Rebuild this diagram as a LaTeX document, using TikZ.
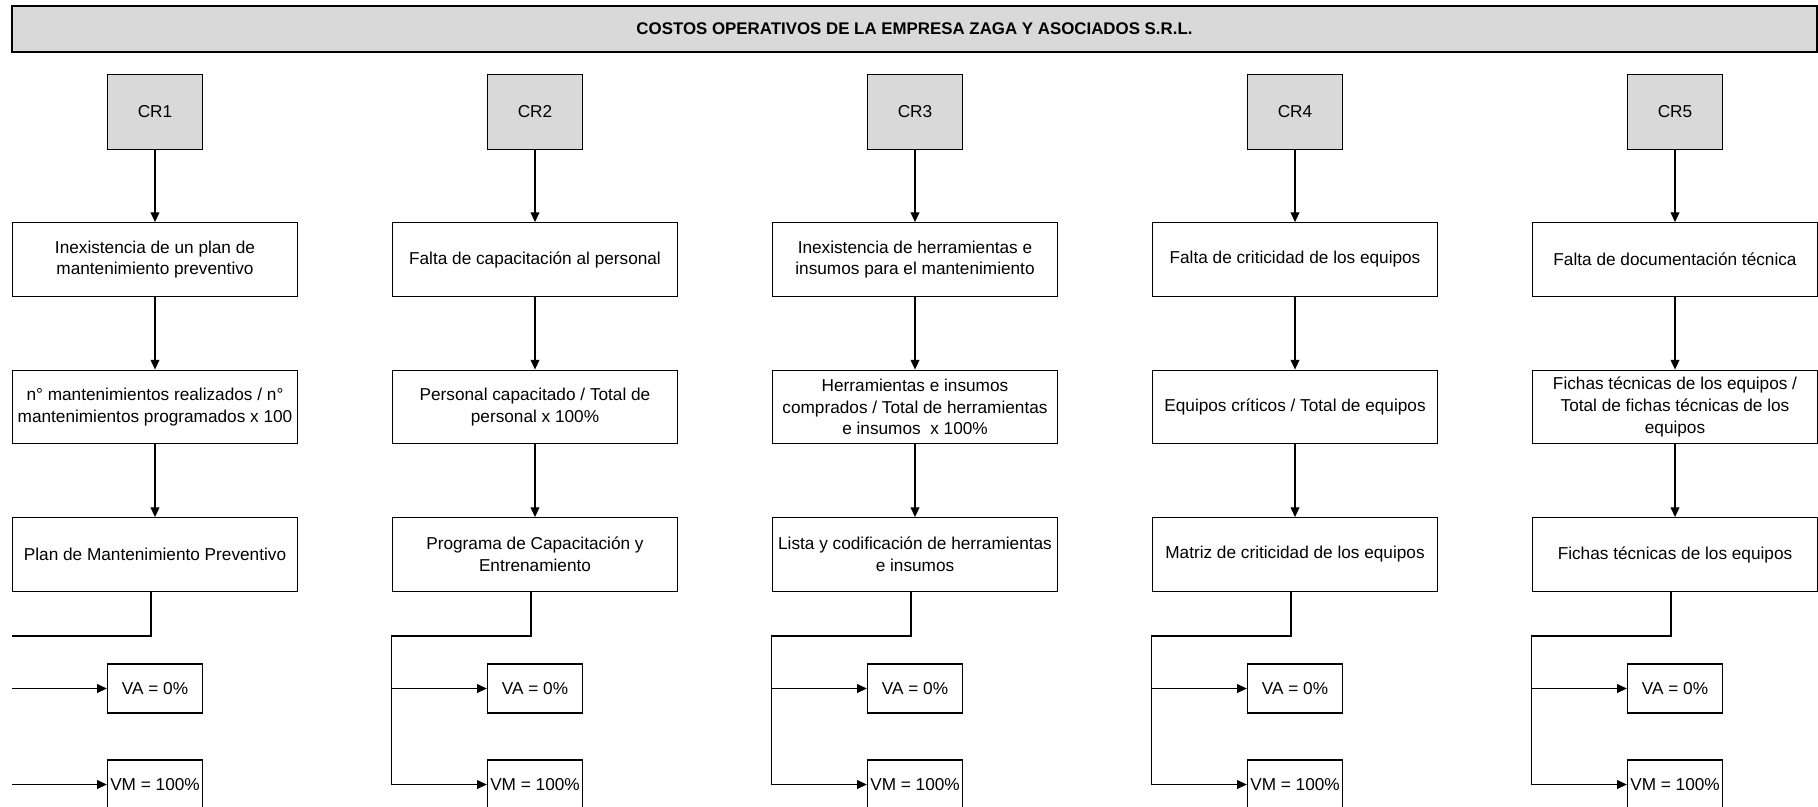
\documentclass[tikz,border=0pt]{standalone}
\usepackage{fontspec}
\setmainfont{Liberation Sans}
\usepackage{tikz}
\usetikzlibrary{arrows.meta}
\definecolor{gris}{HTML}{D9D9D9}

\begin{document}
\begin{tikzpicture}[x=0.02cm, y=-0.02cm,
  font=\fontsize{9.8}{12.3}\selectfont,
  titulo/.style={draw, fill=gris, line width=0.8pt, minimum width=36.1cm, minimum height=0.92cm, font=\fontsize{9.6}{12}\selectfont\bfseries},
  cr/.style={draw, fill=gris, line width=0.8pt, minimum width=1.9cm, minimum height=1.5cm},
  caja/.style={draw, fill=white, line width=0.8pt, minimum width=5.7cm, minimum height=1.47cm, align=center, inner sep=1pt},
  valor/.style={draw, fill=white, line width=0.8pt, minimum width=1.9cm, minimum height=0.98cm, inner sep=1pt},
  linea/.style={line width=0.6pt},
  flecha/.style={linea, -{Triangle[length=5.5pt,width=5pt]}}]
\useasboundingbox (0,0) rectangle (1818,806);
\clip (0,0) rectangle (1818,806);

\node[titulo] (tit) at (914.5,29) {COSTOS OPERATIVOS DE LA EMPRESA ZAGA Y ASOCIADOS S.R.L.};

% columna 1
\node[cr] (cr1) at (155,112) {CR1};
\node[caja] (causa1) at (155,259.5) {Inexistencia de un plan de\\mantenimiento preventivo};
\node[caja] (ind1) at (155,407) {n° mantenimientos realizados / n°\\mantenimientos programados x 100};
\node[caja] (sol1) at (155,554.5) {Plan de Mantenimiento Preventivo};
\node[valor] (va1) at (155,688.5) {VA = 0\%};
\node[valor] (vm1) at (155,784.5) {VM = 100\%};
\draw[flecha] (cr1) -- (causa1);
\draw[flecha] (causa1) -- (ind1);
\draw[flecha] (ind1) -- (sol1);
\draw[linea] ([xshift=-0.08cm]sol1.south) |- (sol1.west |- 0,636);
\draw[flecha] (sol1.west |- va1.west) -- (va1.west);
\draw[flecha] (sol1.west |- vm1.west) -- (vm1.west);

% columna 2
\node[cr] (cr2) at (535,112) {CR2};
\node[caja] (causa2) at (535,259.5) {Falta de capacitación al personal};
\node[caja] (ind2) at (535,407) {Personal capacitado / Total de\\personal x 100\%};
\node[caja] (sol2) at (535,554.5) {Programa de Capacitación y\\Entrenamiento};
\node[valor] (va2) at (535,688.5) {VA = 0\%};
\node[valor] (vm2) at (535,784.5) {VM = 100\%};
\draw[flecha] (cr2) -- (causa2);
\draw[flecha] (causa2) -- (ind2);
\draw[flecha] (ind2) -- (sol2);
\draw[linea] ([xshift=-0.08cm]sol2.south) |- (sol2.west |- 0,636) -- (sol2.west |- vm2.west);
\draw[flecha] (sol2.west |- va2.west) -- (va2.west);
\draw[flecha] (sol2.west |- vm2.west) -- (vm2.west);

% columna 3
\node[cr] (cr3) at (915,112) {CR3};
\node[caja] (causa3) at (915,259.5) {Inexistencia de herramientas e\\insumos para el mantenimiento};
\node[caja] (ind3) at (915,407) {Herramientas e insumos\\comprados / Total de herramientas\\e insumos~ x 100\%};
\node[caja] (sol3) at (915,554.5) {Lista y codificación de herramientas\\e insumos};
\node[valor] (va3) at (915,688.5) {VA = 0\%};
\node[valor] (vm3) at (915,784.5) {VM = 100\%};
\draw[flecha] (cr3) -- (causa3);
\draw[flecha] (causa3) -- (ind3);
\draw[flecha] (ind3) -- (sol3);
\draw[linea] ([xshift=-0.08cm]sol3.south) |- (sol3.west |- 0,636) -- (sol3.west |- vm3.west);
\draw[flecha] (sol3.west |- va3.west) -- (va3.west);
\draw[flecha] (sol3.west |- vm3.west) -- (vm3.west);

% columna 4
\node[cr] (cr4) at (1295,112) {CR4};
\node[caja] (causa4) at (1295,259.5) {Falta de criticidad de los equipos};
\node[caja] (ind4) at (1295,407) {Equipos críticos / Total de equipos};
\node[caja] (sol4) at (1295,554.5) {Matriz de criticidad de los equipos};
\node[valor] (va4) at (1295,688.5) {VA = 0\%};
\node[valor] (vm4) at (1295,784.5) {VM = 100\%};
\draw[flecha] (cr4) -- (causa4);
\draw[flecha] (causa4) -- (ind4);
\draw[flecha] (ind4) -- (sol4);
\draw[linea] ([xshift=-0.08cm]sol4.south) |- (sol4.west |- 0,636) -- (sol4.west |- vm4.west);
\draw[flecha] (sol4.west |- va4.west) -- (va4.west);
\draw[flecha] (sol4.west |- vm4.west) -- (vm4.west);

% columna 5
\node[cr] (cr5) at (1675,112) {CR5};
\node[caja] (causa5) at (1675,259.5) {Falta de documentación técnica};
\node[caja] (ind5) at (1675,407) {Fichas técnicas de los equipos /\\Total de fichas técnicas de los\\equipos};
\node[caja] (sol5) at (1675,554.5) {Fichas técnicas de los equipos};
\node[valor] (va5) at (1675,688.5) {VA = 0\%};
\node[valor] (vm5) at (1675,784.5) {VM = 100\%};
\draw[flecha] (cr5) -- (causa5);
\draw[flecha] (causa5) -- (ind5);
\draw[flecha] (ind5) -- (sol5);
\draw[linea] ([xshift=-0.08cm]sol5.south) |- (sol5.west |- 0,636) -- (sol5.west |- vm5.west);
\draw[flecha] (sol5.west |- va5.west) -- (va5.west);
\draw[flecha] (sol5.west |- vm5.west) -- (vm5.west);
\end{tikzpicture}
\end{document}
